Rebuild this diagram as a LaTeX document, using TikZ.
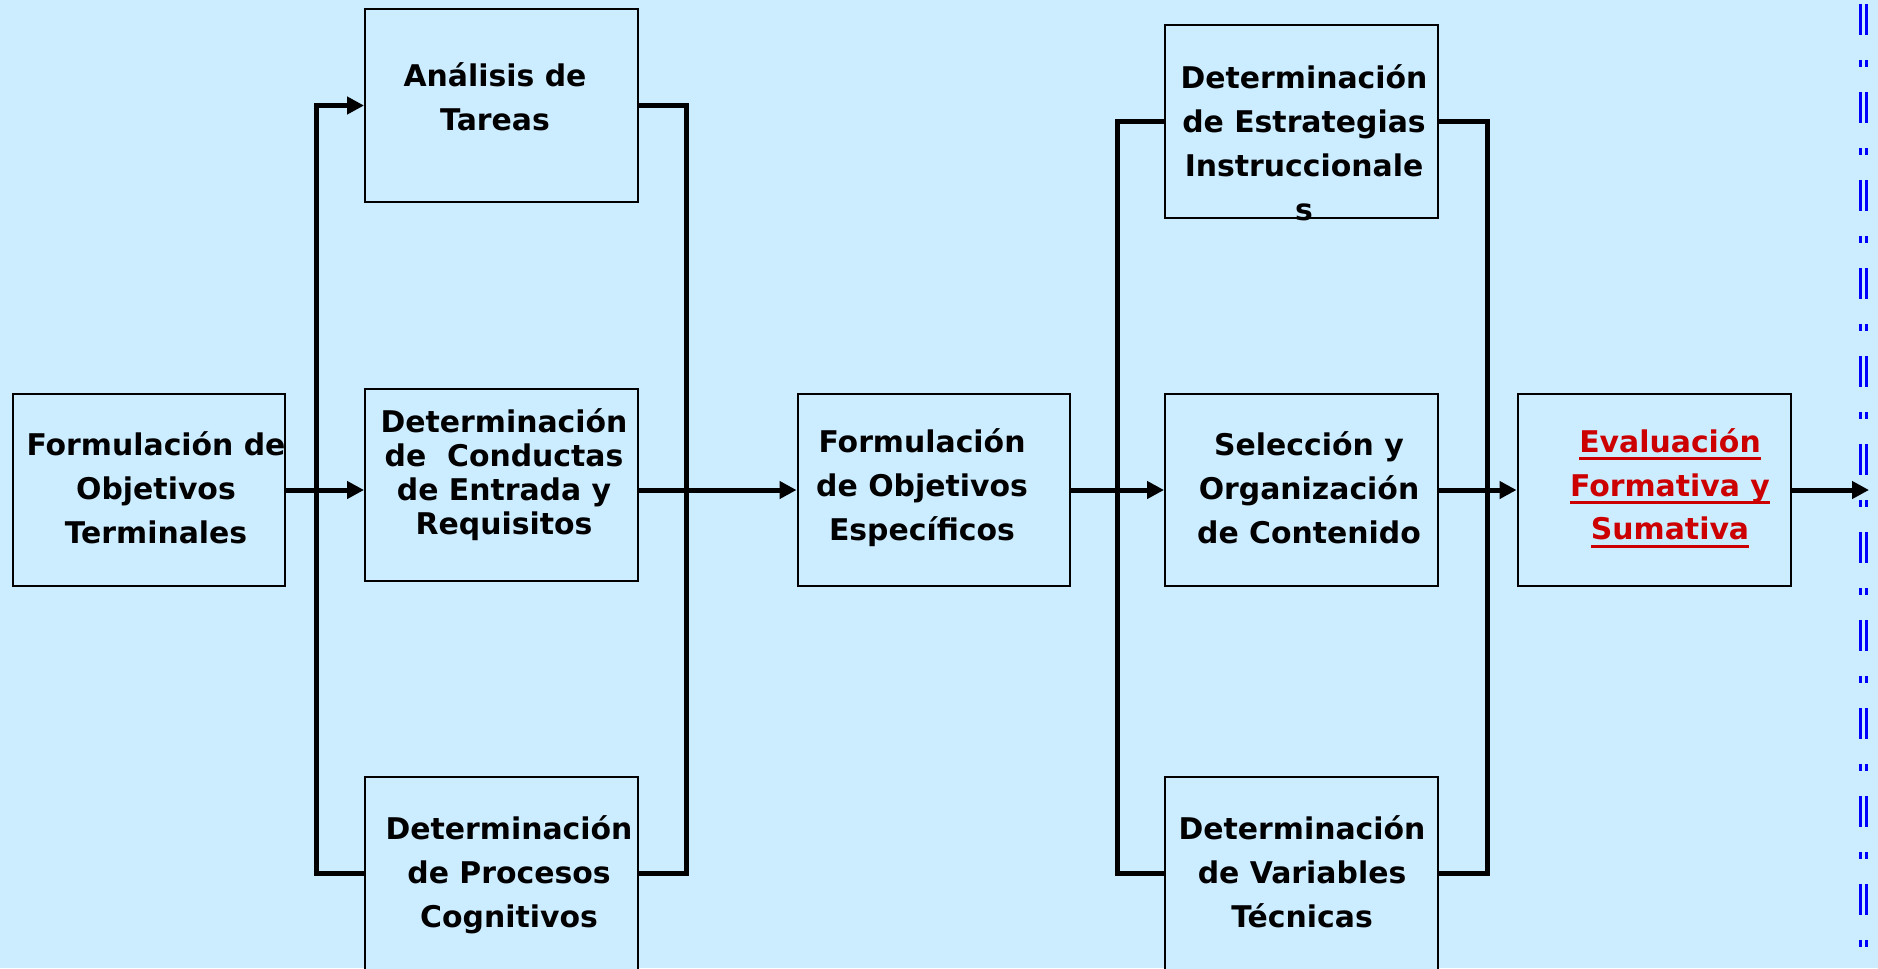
\documentclass[tikz,border=0pt]{standalone}
\usepackage{fontspec}
\setmainfont{DejaVu Sans}
\usetikzlibrary{arrows.meta}
\definecolor{bgcolor}{RGB}{204, 236, 255}
\definecolor{evalred}{RGB}{204, 0, 0}
\definecolor{dashblue}{RGB}{0, 0, 255}
\newcommand{\redline}[1]{\leavevmode\setbox0=\hbox{#1}\rlap{\rule[-4.5pt]{\wd0}{1.8pt}}\box0}

\begin{document}
\begin{tikzpicture}[x=0.02cm, y=-0.02cm,
    block/.style={draw, line width=0.04cm, fill=bgcolor, inner sep=0pt, minimum width=5.46cm, minimum height=3.86cm},
    blocktext/.style={align=center, inner sep=0pt, font=\bfseries\fontsize{17}{25}\selectfont},
    arc/.style={line width=0.1cm, -{Triangle[length=0.34cm, width=0.34cm]}},
    wire/.style={line width=0.1cm},
    bar/.style={dashblue, line width=0.066cm}
    ]

    \fill[bgcolor] (0,0) rectangle (1878,968);
    \useasboundingbox (0,0) rectangle (1878,968);

    % Define blocks
    \foreach \name/\x/\y in {objterm/149/490, analisis/501.5/105.5, conductas/501.5/485,
        procesos/501.5/873.5, objesp/934/490, estrategias/1301.5/121.5,
        seleccion/1301.5/490, variables/1301.5/873.5, evaluacion/1654/490} {
        \node[block] (\name) at (\x,\y) {};
    }

    \coordinate (splitL) at (316,490);
    \coordinate (joinL) at (686,490);
    \coordinate (splitR) at (1117,490);
    \coordinate (joinR) at (1487,490);
    \coordinate (exit) at (1869,490);

    % Define connectors
    \draw[arc] (objterm.east) -- (objterm.east -| conductas.west);
    \draw[arc] (procesos.west) -| (splitL) |- (analisis.west);
    \draw[wire] (analisis.east) -| (joinL) |- (procesos.east);
    \draw[arc] (conductas.east |- joinL) -- (objesp.west);
    \draw[arc] (objesp.east) -- (seleccion.west);
    \draw[wire] (estrategias.west) -| (splitR) |- (variables.west);
    \draw[wire] (estrategias.east) -| (joinR) |- (variables.east);
    \draw[arc] (seleccion.east) -- (evaluacion.west);
    \draw[arc] (evaluacion.east) -- (exit);

    % Define texts
    \node[blocktext] (tObjTerm) at (156,488) {Formulación de\\Objetivos\\Terminales};
    \node[blocktext] (tAnalisis) at (495,97) {Análisis de\\Tareas};
    \node[blocktext, font=\bfseries\fontsize{17}{19.4}\selectfont] (tConductas) at (504,475)
        {Determinación\\de\ \ Conductas\\de Entrada y\\Requisitos};
    \node[blocktext] (tProcesos) at (509,875) {Determinación\\de Procesos\\Cognitivos};
    \node[blocktext] (tObjEsp) at (922,488) {Formulación\\de Objetivos\\Específicos};
    \node[blocktext] (tEstrategias) at (1304,143) {Determinación\\de Estrategias\\Instruccionale\\s};
    \node[blocktext] (tSeleccion) at (1309,488) {Selección y\\Organización\\de Contenido};
    \node[blocktext] (tVariables) at (1302,872) {Determinación\\de Variables\\Técnicas};
    \node[blocktext, evalred] (tEvaluacion) at (1670,488)
        {\redline{Evaluación}\\\redline{Formativa y}\\\redline{Sumativa}};

    % Blue marks on the right edge
    \foreach \k in {0,...,10} {
        \pgfmathsetmacro{\ytop}{4+88*\k}
        \draw[bar] (1860.7,\ytop) -- ++(0,31) (1866.7,\ytop) -- ++(0,31);
        \draw[bar] (1860.7,\ytop+56) -- ++(0,7) (1866.7,\ytop+56) -- ++(0,7);
    }
\end{tikzpicture}
\end{document}
